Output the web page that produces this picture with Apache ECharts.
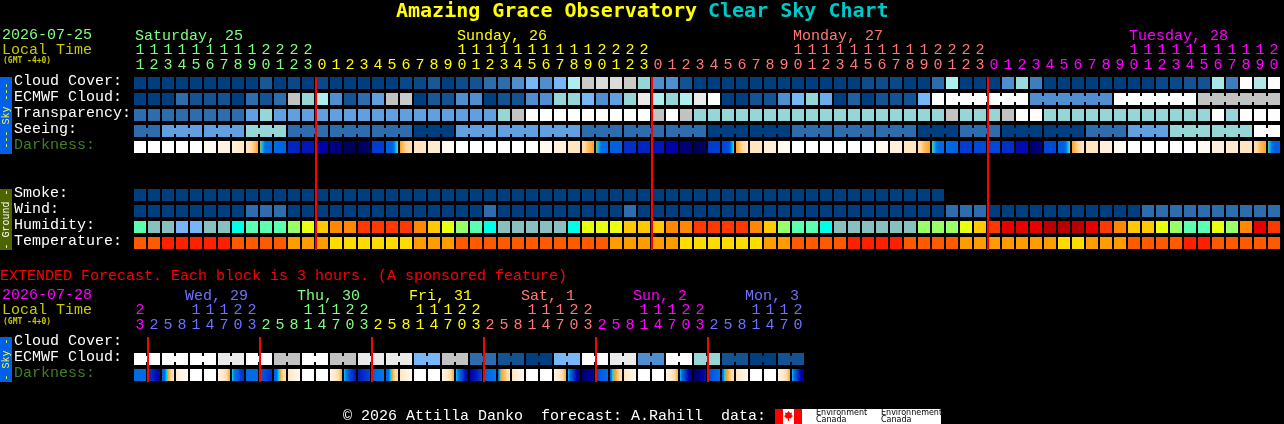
<!DOCTYPE html>
<html>
<head>
<meta charset="utf-8">
<style>html,body{margin:0;padding:0;background:#000}#c{width:1284px;height:424px}</style>
<script src="https://cdn.jsdelivr.net/npm/echarts@6/dist/echarts.min.js"></script>
</head>
<body>
<div id="c"></div>
<script>
// ---------- data ----------
const rowNames = ['Cloud Cover:','ECMWF Cloud:','Transparency:','Seeing:','Darkness:','','','Smoke:','Wind:','Humidity:','Temperature:'];
const extRowNames = ['Cloud Cover:','ECMWF Cloud:','Darkness:'];

const hours = [11,12,13,14,15,16,17,18,19,20,21,22,23,
  0,1,2,3,4,5,6,7,8,9,10,11,12,13,14,15,16,17,18,19,20,21,22,23,
  0,1,2,3,4,5,6,7,8,9,10,11,12,13,14,15,16,17,18,19,20,21,22,23,
  0,1,2,3,4,5,6,7,8,9,10,11,12,13,14,15,16,17,18,19,20];
const dayOfHour = [...Array(13).fill(0),...Array(24).fill(1),...Array(24).fill(2),...Array(21).fill(3)];
const dayLabels = [[0,'Saturday, 25',0],[23,'Sunday, 26',1],[47,'Monday, 27',2],[71,'Tuesday, 28',3]];
const midnights = [13,37,61];

const extHours = [23,2,5,8,11,14,17,20,23,2,5,8,11,14,17,20,23,2,5,8,11,14,17,20,23,2,5,8,11,14,17,20,23,2,5,8,11,14,17,20,23,2,5,8,11,14,17,20];
const extDayOfHour = [3,...Array(8).fill(4),...Array(8).fill(0),...Array(8).fill(1),...Array(8).fill(2),...Array(8).fill(3),...Array(7).fill(4)];
const extDayLabels = [[4,'Wed, 29',4],[12,'Thu, 30',0],[20,'Fri, 31',1],[28,'Sat, 1',2],[36,'Sun, 2',3],[44,'Mon, 3',4]];
const extMidnights = [1,9,17,25,33,41];

const cloudCover = [0,0,0,0,0,0,0,0,0,12,0,5,0,5,0,0,0,0,0,5,5,12,0,7,10,20,20,30,50,30,50,70,82,86,86,82,60,30,30,10,
  0,0,0,0,0,0,0,0,0,0,0,0,7,7,5,0,0,20,70,0,0,0,30,62,25,0,0,0,0,0,0,0,0,5,5,10,10,67,25,100,72,100];
const ecmwfCloud = [0,0,0,20,10,10,10,0,20,10,20,80,60,70,30,10,20,40,80,82,0,12,10,30,30,0,10,10,30,30,60,60,50,30,40,60,90,70,60,70,90,100,
  0,0,10,10,30,50,60,45,0,15,0,10,10,10,50,100,100,100,100,100,100,100,30,30,30,30,30,30,100,100,100,100,100,100,80,80,80,80,80,80];
const ecmwfRunStart = 58, ecmwfRunLength = 6;
const transparency = [20,20,20,20,20,20,20,20,40,60,40,40,40,40,40,40,40,40,40,40,40,40,40,40,40,40,60,80,100,100,100,100,100,100,100,100,100,80,100,80,
  60,60,60,60,60,60,60,60,60,60,60,60,60,60,60,60,60,60,80,60,60,60,80,100,100,60,60,60,60,60,60,60,60,60,60,60,60,100,60,100,100,100];
const seeingRunLengths = [2,3,3,3,3,3,3,3,3,3,3,3,3,3,3,3,3,3,3,3,3,3,3,3,3,3,3,2];
const seeingRuns = [20,40,40,60,20,20,20,0,40,40,40,20,20,20,0,0,20,20,20,0,20,0,0,20,40,60,60,100];
const darkness = [0,0,0,0,0,1,[1.5,2],[2,3],[3,4,5],[5.3,7.5,7.5],[7.5,8],10.5,11,12,[13,13.5],[14,14.5],[14.5,13.5],9.5,[8,8,5.2],[5,4,3.5],3,2.5,1,
  0,0,0,0,0,0,1,2,3,[3.5,4.5,5],[5.3,7.5,7.5],8,10,10.5,11,12,13.5,[14.5,14],9.5,[9,9,5.2],[5,4,3],3,2.2,1,
  0,0,0,0,0,0,1,2,3,[3.5,4.5,5],[5.5,7.5,7.5],[7.5,8],9.5,9,9,10,11.5,[14,13],9,[8,8,5.2],[5,4,3],3,2,1,0,0,0,0,0,1,2,2.5,3,[3.5,4.5,5],[5.5,8,8]];
const smoke = [0,0,0,0,0,0,0,0,0,0,0,0,0,0,0,0,0,0,0,0,0,0,0,0,0,0,0,0,0,0,0,0,0,0,0,0,0,0,0,0,0,0,0,0,0,0,0,0,0,0,0,0,0,0,0,0,0,0];
const wind = [0,0,0,0,0,0,0,0,20,20,20,0,0,0,0,0,0,0,0,0,0,0,0,0,0,20,0,0,0,0,0,0,0,0,0,20,0,0,0,0,0,0,0,0,0,0,0,0,0,0,0,0,0,0,0,0,0,0,20,20,20,0,0,0,0,0,0,0,0,0,0,0,20,20,20,20,20,20,20,20,20,20];
const humidity = [50,35,35,30,30,35,35,45,50,50,50,55,60,65,70,70,75,75,75,75,70,65,60,55,50,45,35,35,35,35,35,45,60,60,60,65,65,65,70,70,75,75,75,75,70,65,55,50,50,45,35,35,
  35,35,35,35,55,55,55,60,65,75,80,80,80,85,85,85,80,75,70,65,65,60,55,50,50,60,55,70,80,75];
const temperature = [24,24,27,27,27,27,27,24,24,24,24,21,21,21,18,18,18,18,18,18,21,21,21,24,24,24,24,24,24,24,24,24,24,24,21,21,21,21,21,18,18,18,18,18,18,21,21,24,24,24,24,27,
  27,27,27,24,24,24,24,21,21,21,21,21,21,21,18,18,21,21,21,24,24,24,24,27,27,24,24,24,24,24];

const extEcmwf = [100,100,100,90,100,80,100,80,90,90,50,80,20,10,0,50,100,90,30,100,60,10,0,10];
const extDarkness = [7.5,[9.5,11,12],[8,7,5,4,3],[2.5,1.5,1],0,0,[1.5,3,5],[5.8,7.5,8,9.5,10],
  7.5,[8,9,10],[8,7,5,4,3.5],[3,2,1],0,0,[1.5,3,5],[6,7.5,9,10,11],
  [11,10,9],[8,7.5,7],[8,7,5,4,3.5],[3,2,1],0,0,[1.5,3,5],[6,7.5,9,11,12],
  [12,11,9],[8,7.5,7],[8,5,4.5,4,3],[3,2,1],0,0,[1.5,3,5],[6,8,10,12,13],
  [14,13,12],[9,8,7.5],[8,5.5,4.8,4,3.5],[3,2,1],0,0,[1.5,3,5],[6,8,10,12,13],
  [14,13,11],[9,8,7.5],[8,5.5,4.8,4,3.5],[3,2,1],0,0,[1.5,3,5],[6,8,10,12,13]];

// ---------- palettes ----------
const skyScale = {0:'#003f7f',10:'#135393',20:'#2d6dad',30:'#4f8fcf',40:'#60a0e0',50:'#77b7f7',60:'#96d6d6',70:'#aeeeee',80:'#c2c2c2',90:'#eaeaea',100:'#fefefe'};
const darkScale = ['#ffffff','#fffaf0','#fff0dc','#ffe6c0','#ffd8a0','#ffa020','#00c8f0','#0078e8','#0060e0','#0048d8','#0030c8','#0018b8','#0000a8','#000088','#000060','#000048'];
const humidityScale = {30:'#78b4f8',35:'#88c0c0',45:'#00ffe8',50:'#5cffb0',55:'#98ff68',60:'#e8ff10',65:'#ffc800',70:'#ff8800',75:'#ff3800',80:'#e80000',85:'#b80000'};
const temperatureScale = {18:'#ffdc00',21:'#ff9c00',24:'#ff5a00',27:'#ff2000'};
const dayColors = ['#80ff80','#ffff00','#ff7878','#ff00ff','#7070ff'];
const FONT = '"Liberation Mono", monospace';
const TITLE_FONT = '"DejaVu Sans Mono", monospace';

function hex(c){return [1,3,5].map(k=>parseInt(c.substr(k,2),16));}
function mix(a,b,t){const A=hex(a),B=hex(b);return 'rgb('+A.map((v,k)=>Math.round(v+(B[k]-v)*t)).join(',')+')';}
function skyColor(v){const lo=Math.floor(v/10)*10, hi=Math.min(100,lo+10);return mix(skyScale[lo],skyScale[hi],(v-lo)/10);}
function darkColor(l){const lo=Math.floor(l), hi=Math.min(darkScale.length-1,lo+1);return mix(darkScale[lo],darkScale[hi],l-lo);}
function darkFill(s){
  if(!Array.isArray(s)) return darkColor(s);
  const stops=[];
  for(let k=0;k<s.length-1;k++){
    const a=s[k],b=s[k+1],n=8;
    for(let j=0;j<=n;j++){const t=j/n;stops.push({offset:(k+t)/(s.length-1),color:darkColor(a+(b-a)*t)});}
  }
  return new echarts.graphic.LinearGradient(0,0,1,0,stops);
}

// ---------- cell tables: [cell, row, linked to next cell] + fill ----------
function rowCells(values,row,fill,linkFn){
  return values.map((v,i)=>({i,row,link:linkFn?linkFn(i):false,fill:fill(v)}));
}
const seeing=[], seeingRunOf=[];
seeingRuns.forEach((v,r)=>{for(let k=0;k<seeingRunLengths[r];k++){seeing.push(v);seeingRunOf.push(r);}});
const ecmwfLink=i=>i>=ecmwfRunStart && i<ecmwfCloud.length-1 && Math.floor((i-ecmwfRunStart)/ecmwfRunLength)===Math.floor((i+1-ecmwfRunStart)/ecmwfRunLength);
const mainCells=[
  ...rowCells(cloudCover,0,skyColor),
  ...rowCells(ecmwfCloud,1,skyColor,ecmwfLink),
  ...rowCells(transparency,2,skyColor),
  ...rowCells(seeing,3,skyColor,i=>seeingRunOf[i]===seeingRunOf[i+1]),
  ...rowCells(darkness,4,darkFill),
  ...rowCells(smoke,7,skyColor),
  ...rowCells(wind,8,skyColor),
  ...rowCells(humidity,9,v=>humidityScale[v]),
  ...rowCells(temperature,10,v=>temperatureScale[v])
];
const extCells=[];
extEcmwf.forEach((v,j)=>{
  extCells.push({i:2*j,row:1,link:true,fill:skyColor(v)});
  extCells.push({i:2*j+1,row:1,link:false,fill:skyColor(v)});
});
extDarkness.forEach((s,i)=>extCells.push({i,row:2,link:false,fill:darkFill(s)}));

function cellSeries(cells,gridIdx){
  return {type:'custom',xAxisIndex:gridIdx*2,yAxisIndex:gridIdx,silent:true,z:2,clip:false,
    encode:{x:0,y:1},
    data:cells.map(c=>[c.i,c.row]),
    renderItem(params,api){
      const c=cells[params.dataIndex];
      const p=api.coord([api.value(0),api.value(1)]);
      const bw=api.size([1,0])[0], bh=api.size([0,1])[1];
      const x=p[0]-bw/2+1, y=p[1]-bh/2+2, w=bw-2, h=bh-4;
      const kids=[{type:'rect',shape:{x,y,width:w,height:h},style:{fill:c.fill}}];
      if(c.link) kids.push({type:'rect',shape:{x:x+w,y:y+3,width:2,height:6},style:{fill:c.fill}});
      return {type:'group',children:kids};
    }};
}
function lineSeries(ticks,gridIdx,lastRow){
  return {type:'custom',xAxisIndex:gridIdx*2,yAxisIndex:gridIdx,silent:true,z:5,clip:false,
    encode:{x:0},data:ticks.map(t=>[t,0]),
    renderItem(params,api){
      const bw=api.size([1,0])[0], bh=api.size([0,1])[1];
      const a=api.coord([api.value(0),0]), b=api.coord([api.value(0),lastRow]);
      return {type:'rect',shape:{x:a[0]-bw/2,y:a[1]-bh/2+2,width:2,height:b[1]-a[1]+bh-3},style:{fill:'#ff0000'}};
    }};
}
function daySeries(labels,gridIdx,dx){
  return {type:'custom',xAxisIndex:gridIdx*2,yAxisIndex:gridIdx,silent:true,z:3,clip:false,
    encode:{x:0},data:labels.map(l=>[l[0],0]),
    renderItem(params,api){
      const l=labels[params.dataIndex], p=api.coord([api.value(0),0]);
      return {type:'text',x:p[0]+dx,y:p[1]-47,style:{text:l[1],fill:dayColors[l[2]],font:'15px '+FONT,textAlign:'left',textVerticalAlign:'middle'}};
    }};
}
function hourAxes(hrs,dayIdx,gridIdx){
  const common=(fmt,offset)=>({type:'category',gridIndex:gridIdx,position:'top',offset,data:hrs.map((h,i)=>i),boundaryGap:true,
    axisLine:{show:false},axisTick:{show:false},splitLine:{show:false},
    axisLabel:{interval:0,margin:2,hideOverlap:false,fontFamily:FONT,fontSize:15,formatter:fmt,
      color:(v,i)=>dayColors[dayIdx[i]]}});
  return [common(v=>String(hrs[+v]%10),0),common(v=>hrs[+v]>=10?String(Math.floor(hrs[+v]/10)):'',15)];
}
function rowAxis(names,gridIdx){
  return {type:'category',gridIndex:gridIdx,inverse:true,data:names,
    axisLine:{show:false},axisTick:{show:false},splitLine:{show:false},
    axisLabel:{interval:0,align:'left',verticalAlign:'bottom',lineHeight:4,margin:119,fontFamily:FONT,fontSize:15,
      color:v=>v==='Darkness:'?'#408020':'#ffffff'}};
}
function txt(x,y,text,fill,font,extra){
  return Object.assign({type:'text',x,y,silent:true,style:{text,fill,font,textVerticalAlign:'middle',textAlign:'left'}},extra||{});
}
function sideBar(y,h,fill,text,color){
  return [
    {type:'rect',silent:true,shape:{x:0,y,width:12,height:h},style:{fill}},
    {type:'text',silent:true,x:6,y:y+h/2,rotation:Math.PI/2,
      style:{text,fill:color,font:'10px '+FONT,textAlign:'center',textVerticalAlign:'middle'}}
  ];
}
const logoFont='8px "DejaVu Sans", sans-serif';
const graphics=[
  {type:'text',silent:true,x:396,y:12,style:{text:'Amazing Grace Observatory',fill:'#ffff00',font:'bold 20px '+TITLE_FONT,textAlign:'left',textVerticalAlign:'middle'}},
  {type:'text',silent:true,x:708,y:12,style:{text:'Clear Sky Chart',fill:'#00c8c8',font:'bold 20px '+TITLE_FONT,textAlign:'left',textVerticalAlign:'middle'}},
  txt(2,35,'2026-07-25','#80ff80','15px '+FONT),
  txt(2,50,'Local Time','#c8c800','15px '+FONT),
  txt(3,61,'(GMT -4+0)','#c8c800','bold 8px '+TITLE_FONT),
  txt(0,276,'EXTENDED Forecast. Each block is 3 hours. (A sponsored feature)','#ff0000','15px '+FONT),
  txt(2,295,'2026-07-28','#ff00ff','15px '+FONT),
  txt(2,310,'Local Time','#c8c800','15px '+FONT),
  txt(3,322,'(GMT -4+0)','#c8c800','bold 8px '+TITLE_FONT),
  ...sideBar(77,77,'#0060e8','--- Sky ---','#ffff40'),
  ...sideBar(189,61,'#4d6400','- Ground -','#ffffff'),
  ...sideBar(337,45,'#0060e8','- Sky -','#ffff40'),
  txt(343,416,'\u00a9 2026 Attilla Danko  forecast: A.Rahill  data:','#ffffff','15px '+FONT),
  {type:'rect',silent:true,shape:{x:775,y:409,width:166,height:15},style:{fill:'#ffffff'}},
  {type:'rect',silent:true,shape:{x:775,y:409,width:8,height:15},style:{fill:'#ff0000'}},
  {type:'rect',silent:true,shape:{x:794,y:409,width:8,height:15},style:{fill:'#ff0000'}},
  {type:'polygon',silent:true,shape:{points:[[788.5,411],[790,413],[792,412.5],[791.5,415],[793,416],[790.5,418.5],[789,418.5],[789,421],[788,421],[788,418.5],[786.5,418.5],[784,416],[785.5,415],[785,412.5],[787,413]]},style:{fill:'#ff0000'}},
  txt(816,412.5,'Environment','#000000',logoFont),
  txt(816,420,'Canada','#000000',logoFont),
  txt(881,412.5,'Environnement','#000000',logoFont),
  txt(881,420,'Canada','#000000',logoFont)
];

const chart=echarts.init(document.getElementById('c'),null,{renderer:'canvas',width:1284,height:424});
chart.setOption({
  animation:false,backgroundColor:'#000000',
  grid:[{left:133,top:75,width:1148,height:176},{left:133,top:335,width:672,height:48}],
  xAxis:[...hourAxes(hours,dayOfHour,0),...hourAxes(extHours,extDayOfHour,1)],
  yAxis:[rowAxis(rowNames,0),rowAxis(extRowNames,1)],
  series:[cellSeries(mainCells,0),lineSeries(midnights,0,10),daySeries(dayLabels,0,-5),
          cellSeries(extCells,1),lineSeries(extMidnights,1,2),daySeries(extDayLabels,1,-11)],
  graphic:graphics
});
</script>
</body>
</html>
